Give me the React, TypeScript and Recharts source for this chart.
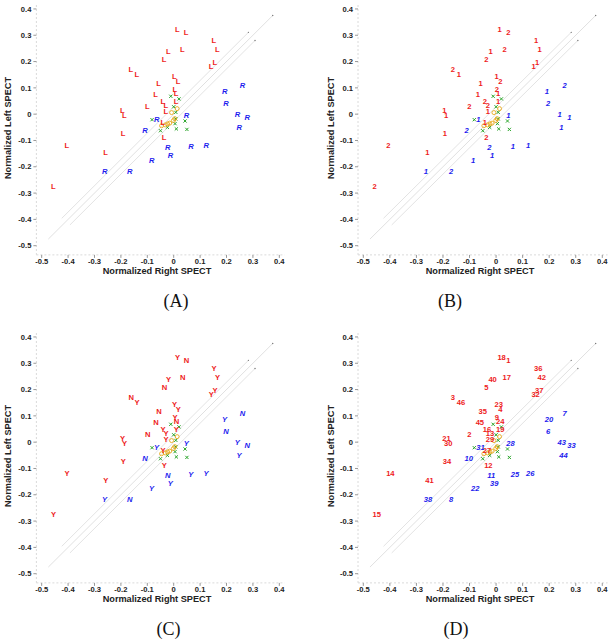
import React from 'react';
import { ScatterChart, Scatter, XAxis, YAxis } from 'recharts';

// Subject data (index i -> subject i+1)
const rightSpect = [
  0.038, -0.109, -0.171, 0.008, -0.045, 0.188, 0.25, -0.177, -0.005, -0.119,
  -0.033, -0.045, -0.039, -0.414, -0.465, -0.05, 0.024, 0.005, 0.0, 0.183,
  -0.203, -0.094, -0.006, 0.0, 0.055, 0.113, -0.05, 0.038, -0.039, -0.196,
  -0.075, 0.133, 0.268, -0.201, -0.066, 0.143, 0.147, -0.272, -0.023, -0.029,
  -0.267, 0.156, 0.231, 0.238, -0.077, -0.148,
];
const leftSpect = [
  0.311, 0.029, 0.172, 0.124, 0.207, 0.041, 0.108, -0.219, 0.095, -0.063,
  -0.127, -0.087, 0.034, -0.118, -0.274, 0.047, 0.247, 0.322, 0.049, 0.086,
  0.014, -0.176, 0.143, 0.08, -0.122, -0.119, -0.032, -0.004, 0.011, -0.004,
  -0.02, 0.183, -0.013, -0.071, 0.119, 0.281, 0.198, -0.219, -0.158, 0.238,
  -0.147, 0.246, -0.001, -0.049, 0.077, 0.15,
];
const side = [
  'L', 'L', 'L', 'L', 'L', 'R', 'R', 'R', 'L', 'R',
  'R', 'L', 'L', 'L', 'L', 'L', 'L', 'L', 'L', 'R',
  'L', 'R', 'L', 'L', 'R', 'R', 'L', 'R', 'L', 'L',
  'R', 'L', 'R', 'L', 'L', 'L', 'L', 'R', 'R', 'L',
  'L', 'L', 'R', 'R', 'L', 'L',
];
const labelsB = [
  '2', '2', '2', '2', '2', '2', '2', '2', '2', '2',
  '2', '2', '2', '2', '2', '2', '2', '1', '1', '1',
  '1', '1', '1', '1', '1', '1', '1', '1', '1', '1',
  '1', '1', '1', '1', '1', '1', '1', '1', '1', '1',
  '1', '1', '1', '1', '1', '1',
];
const labelsC = [
  'N', 'N', 'N', 'Y', 'N', 'N', 'N', 'N', 'Y', 'N',
  'N', 'Y', 'Y', 'Y', 'Y', 'Y', 'N', 'Y', 'Y', 'Y',
  'Y', 'Y', 'Y', 'N', 'Y', 'Y', 'Y', 'Y', 'Y', 'Y',
  'Y', 'Y', 'N', 'Y', 'N', 'Y', 'Y', 'Y', 'Y', 'Y',
  'Y', 'Y', 'Y', 'Y', 'N', 'Y',
];
const labelsD = [
  '1', '2', '3', '4', '5', '6', '7', '8', '9', '10',
  '11', '12', '13', '14', '15', '16', '17', '18', '19', '20',
  '21', '22', '23', '24', '25', '26', '27', '28', '29', '30',
  '31', '32', '33', '34', '35', '36', '37', '38', '39', '40',
  '41', '42', '43', '44', '45', '46',
];

// Controls
const ctrlXRight = [-0.011, 0.02, 0.0, 0.008, -0.082, 0.043, 0.008, 0.005, -0.05, -0.024, 0.01, 0.05];
const ctrlXLeft = [0.068, 0.058, 0.028, 0.007, -0.021, -0.026, -0.018, -0.036, -0.063, -0.05, -0.056, -0.058];
const ctrlORight = [0.013, -0.008, -0.046, -0.032, -0.023, -0.015, -0.001, 0.004];
const ctrlOLeft = [0.021, 0.006, -0.044, -0.041, -0.037, -0.034, -0.024, -0.017];

// Reference lines: [x0, x1] with offset
const diagMain = [-0.475, 0.375];
const diagUpper = [-0.424, 0.283];
const diagLower = [-0.393, 0.308];
const diagOffset = 0.028;

const xTicks = [-0.5, -0.4, -0.3, -0.2, -0.1, 0, 0.1, 0.2, 0.3, 0.4];
const yTicks = [-0.5, -0.4, -0.3, -0.2, -0.1, 0, 0.1, 0.2, 0.3, 0.4];

const W = 306;
const H = 290;
const SANS = '"Liberation Sans", Arial, sans-serif';
const RED = '#ee1c1c';
const BLUE = '#1c1cee';

const LabelMark = (props: any) => {
  const { cx, cy, payload } = props;
  const isR = payload.side === 'R';
  return (
    <text
      x={cx}
      y={cy}
      dy="0.35em"
      textAnchor="start"
      fontFamily={SANS}
      fontSize={7.6}
      fontWeight="bold"
      fontStyle={isR ? 'italic' : 'normal'}
      fill={isR ? BLUE : RED}
    >
      {payload.label}
    </text>
  );
};

const XMark = (props: any) => {
  const { cx, cy } = props;
  const s = 1.6;
  return (
    <g stroke="#2aa52a" strokeWidth={1}>
      <line x1={cx - s} y1={cy - s} x2={cx + s} y2={cy + s} />
      <line x1={cx - s} y1={cy + s} x2={cx + s} y2={cy - s} />
    </g>
  );
};

const Ring = (props: any) => {
  const { cx, cy } = props;
  return <circle cx={cx} cy={cy} r={2} fill="none" stroke="#e8a818" strokeWidth={0.9} />;
};

const EndDot = (props: any) => {
  const { cx, cy, payload } = props;
  if (!payload.end) return <g />;
  return <circle cx={cx} cy={cy} r={0.7} fill="#777" />;
};

const tickStyle = { fontSize: 7.6, fontWeight: 'bold', fill: '#222', fontFamily: SANS };

type Cfg = {
  left: number;
  top: number;
  ml: number;
  mr: number;
  letter: string;
  letterX: number;
  xlabX: number;
  ylabX: number;
};

const panels: { cfg: Cfg; labels: string[] }[] = [
  { cfg: { left: 0, top: 0, ml: 0.4, mr: 21.4, letter: '(A)', letterX: 176, xlabX: 157, ylabX: 8.6 }, labels: side },
  { cfg: { left: 306, top: 0, ml: 16, mr: 4.4, letter: '(B)', letterX: 450, xlabX: 480, ylabX: 331.7 }, labels: labelsB },
  { cfg: { left: 0, top: 328.3, ml: 0.4, mr: 21.4, letter: '(C)', letterX: 168.5, xlabX: 157, ylabX: 8.6 }, labels: labelsC },
  { cfg: { left: 306, top: 328.3, ml: 16, mr: 4.4, letter: '(D)', letterX: 456, xlabX: 480, ylabX: 331.7 }, labels: labelsD },
];

const lineData = (r: number[], off: number) => [
  { x: r[0], y: r[0] + off, end: false },
  { x: r[1], y: r[1] + off, end: true },
];

function Panel({ cfg, labels }: { cfg: Cfg; labels: string[] }) {
  const pts = rightSpect.map((x, i) => ({ x, y: leftSpect[i], label: labels[i], side: side[i] }));
  const greens = ctrlXRight.map((x, i) => ({ x, y: ctrlXLeft[i] }));
  const oranges = ctrlORight.map((x, i) => ({ x, y: ctrlOLeft[i] }));
  return (
    <div style={{ position: 'absolute', left: cfg.left, top: cfg.top, width: W, height: H }}>
      <ScatterChart width={W} height={H} margin={{ top: 5, right: cfg.mr, bottom: 15.1, left: cfg.ml }}>
        <XAxis
          type="number"
          dataKey="x"
          domain={[-0.52, 0.42]}
          ticks={xTicks}
          interval={0}
          allowDataOverflow
          height={20}
          tickSize={3}
          tickMargin={1}
          tick={tickStyle}
          tickFormatter={(v: number) => String(v)}
          axisLine={{ stroke: '#dadada', strokeDasharray: '2 2' }}
          tickLine={{ stroke: '#999' }}
        />
        <YAxis
          type="number"
          dataKey="y"
          domain={[-0.535, 0.415]}
          ticks={yTicks}
          interval={0}
          allowDataOverflow
          width={36}
          tickSize={3}
          tickMargin={2}
          tick={tickStyle}
          tickFormatter={(v: number) => String(v)}
          axisLine={{ stroke: '#dadada', strokeDasharray: '2 2' }}
          tickLine={{ stroke: '#999' }}
        />
        <Scatter data={lineData(diagMain, 0)} line={{ stroke: '#e0e0e0', strokeWidth: 1 }} shape={EndDot} isAnimationActive={false} />
        <Scatter data={lineData(diagUpper, diagOffset)} line={{ stroke: '#e3e3e3', strokeWidth: 1 }} shape={EndDot} isAnimationActive={false} />
        <Scatter data={lineData(diagLower, -diagOffset)} line={{ stroke: '#e3e3e3', strokeWidth: 1 }} shape={EndDot} isAnimationActive={false} />
        <Scatter data={greens} shape={XMark} isAnimationActive={false} />
        <Scatter data={oranges} shape={Ring} isAnimationActive={false} />
        <Scatter data={pts} shape={LabelMark} isAnimationActive={false} />
      </ScatterChart>
    </div>
  );
}

const textBase: React.CSSProperties = {
  position: 'absolute',
  whiteSpace: 'nowrap',
  lineHeight: 1,
  transform: 'translate(-50%, -50%)',
};

export default function App() {
  return (
    <div style={{ position: 'absolute', left: 0, top: 0, width: 612, height: 644, background: '#fff' }}>
      {panels.map((p) => (
        <Panel key={p.cfg.letter} cfg={p.cfg} labels={p.labels} />
      ))}
      {panels.map((p) => (
        <React.Fragment key={'t' + p.cfg.letter}>
          <div
            style={{
              ...textBase,
              left: p.cfg.xlabX,
              top: p.cfg.top + 271.7,
              fontFamily: SANS,
              fontWeight: 'bold',
              fontSize: 9.2,
              color: '#222',
            }}
          >
            Normalized Right SPECT
          </div>
          <div
            style={{
              ...textBase,
              left: p.cfg.ylabX,
              top: p.cfg.top + 128,
              transform: 'translate(-50%, -50%) rotate(-90deg)',
              fontFamily: SANS,
              fontWeight: 'bold',
              fontSize: 9.2,
              color: '#222',
            }}
          >
            Normalized Left SPECT
          </div>
          <div
            style={{
              ...textBase,
              left: p.cfg.letterX,
              top: p.cfg.top + 301,
              fontFamily: '"Liberation Serif", "Times New Roman", serif',
              fontSize: 18,
              color: '#111',
            }}
          >
            {p.cfg.letter}
          </div>
        </React.Fragment>
      ))}
    </div>
  );
}
